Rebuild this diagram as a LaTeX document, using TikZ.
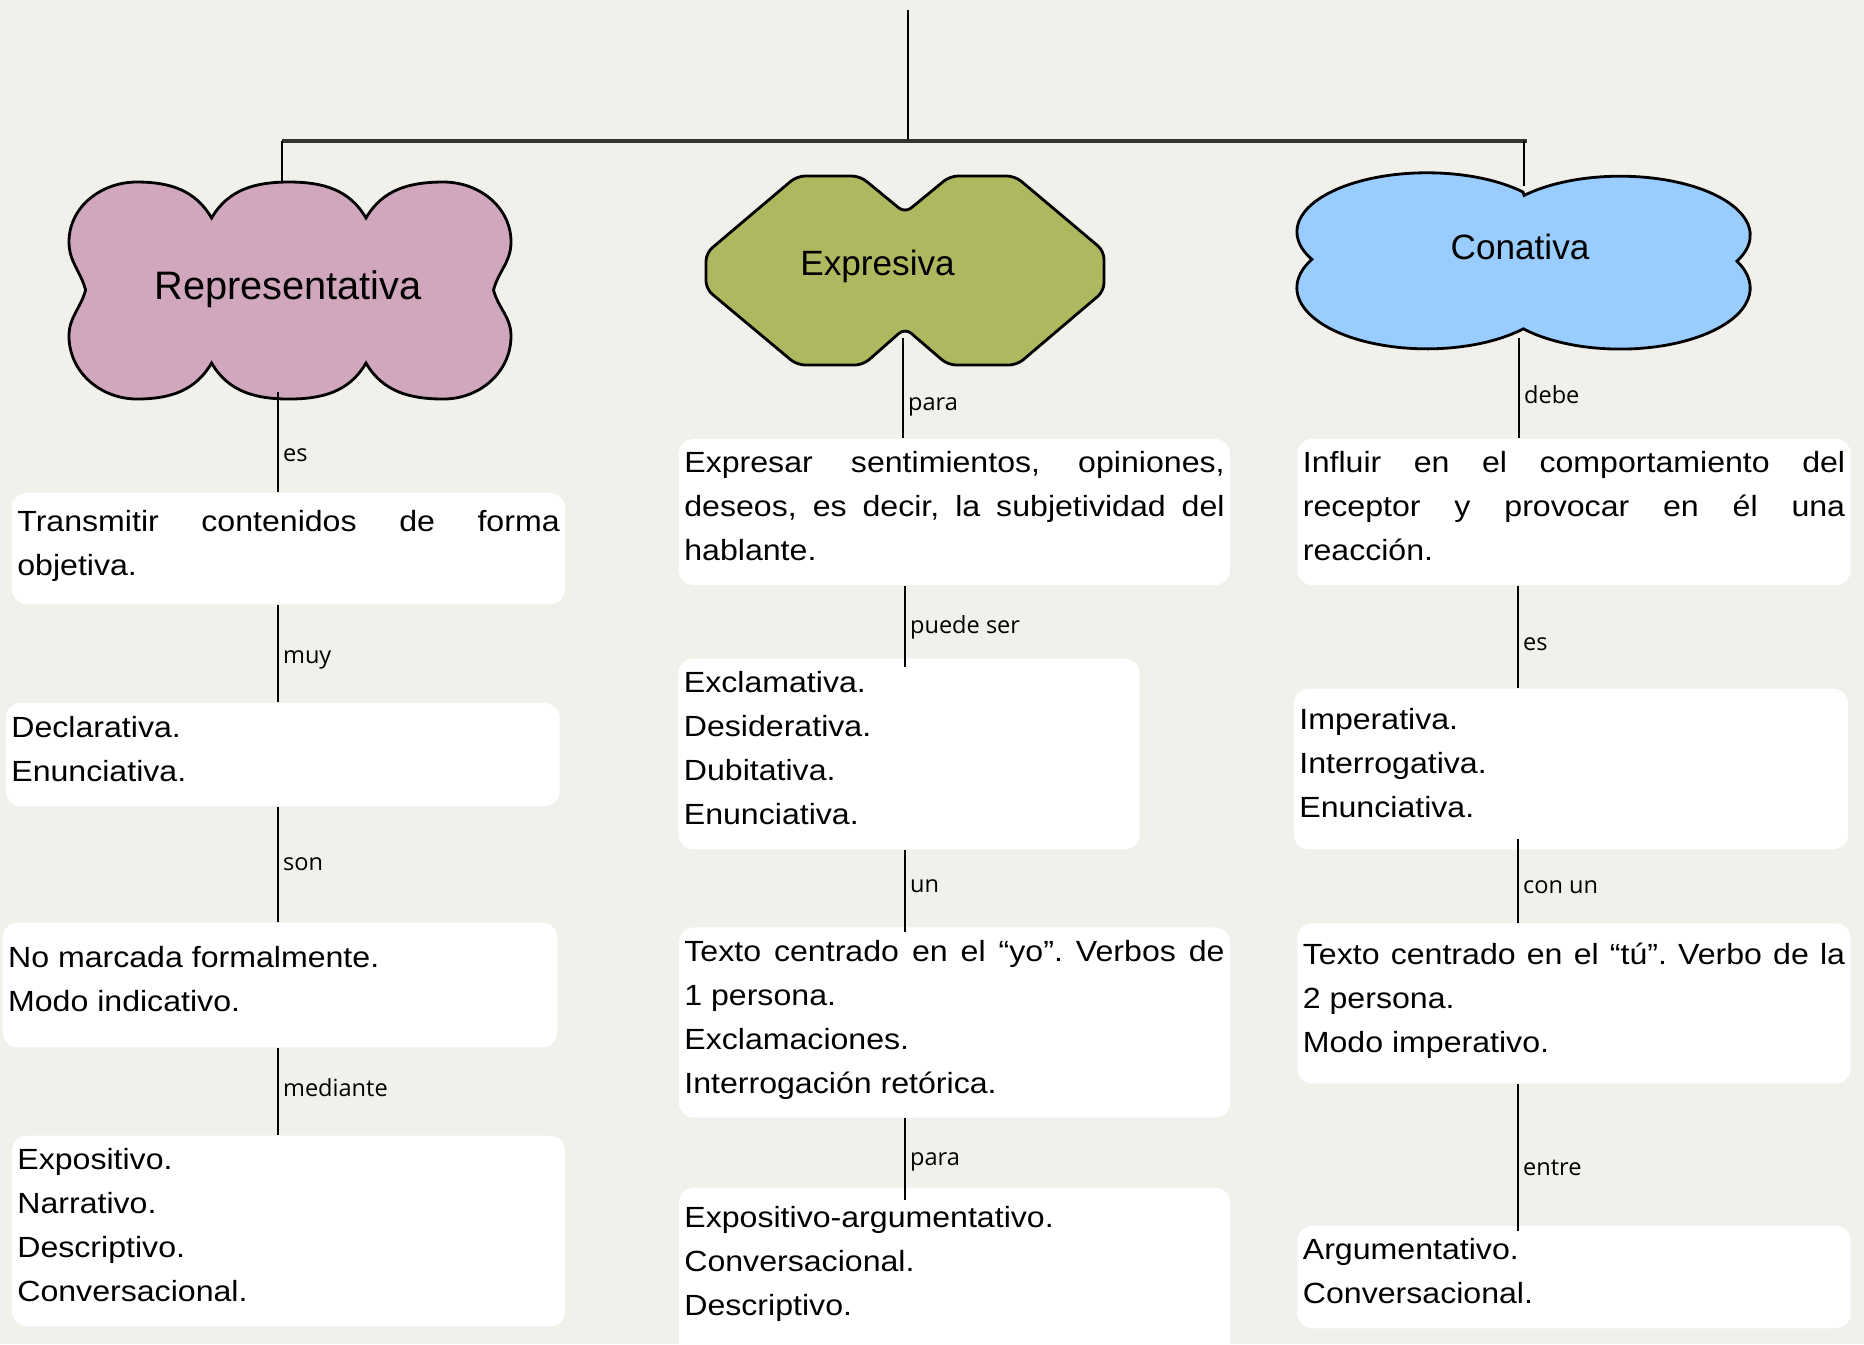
\documentclass[tikz,border=0pt]{standalone}
\usepackage{fontspec}
\newfontfamily\bodyfont{Liberation Sans}[FakeStretch=1.1]
\newfontfamily\headfont{Liberation Sans}
\newfontfamily\lblfont{Open Sans}
\definecolor{paper}{HTML}{F1F0EB}
\definecolor{rosa}{HTML}{D0A7BD}
\definecolor{oliva}{HTML}{ADB85F}
\definecolor{celeste}{HTML}{99CCFF}
\tikzset{
  concept/.style={fill=white, rounded corners=0.15cm, inner xsep=0.055cm, inner ysep=0.1cm,
    align=justify, font=\bodyfont\fontsize{8.3}{12.5}\selectfont,
    execute at end node={\rule[-0.12cm]{0pt}{0pt}}},
  head/.style={font=\headfont\fontsize{10}{12}\selectfont},
  blob/.style={draw, line width=0.8pt},
  link/.style={line width=0.5pt},
  lbl/.style={font=\lblfont\fontsize{6.7}{8}\selectfont, inner sep=1.2pt, anchor=base west}
}
\begin{document}
\sloppy\frenchspacing
\begin{tikzpicture}[x=0.01cm, y=0.01cm]
\fill[paper] (0,0) rectangle (1864,-1344);
\useasboundingbox (0,0) rectangle (1864,-1344);
\coordinate (root) at (908,-10);
\coordinate (hub) at (908,-141);
\coordinate (repN) at (282,-183);
\coordinate (conN) at (1524,-186);
\coordinate (repS) at (278,-392);
\coordinate (expS) at (903,-338);
\coordinate (conS) at (1519,-338);
\coordinate (colL) at (278,0);
\coordinate (colM) at (905,0);
\coordinate (colR) at (1518,0);
\draw[link] (root) -- (hub);
\draw[line width=1pt, black!80] (repN |- hub) -- ([xshift=0.03cm]conN |- hub);
\draw[link] (repN |- hub) -- (repN);
\draw[link] (conN |- hub) -- (conN);
\path[blob, fill=rosa] (85.6,-290) to[out=105,in=270] (69,-242) to[out=90,in=180] (137,-182)
  to[out=0,in=120] (211.6,-218) to[out=60,in=180] (289,-182) to[out=0,in=120] (366,-218)
  to[out=60,in=180] (443.5,-182) to[out=0,in=90] (511,-242) to[out=270,in=75] (493.5,-290)
  to[out=285,in=90] (511,-336) to[out=270,in=0] (443.5,-399) to[out=180,in=-60] (366,-363)
  to[out=-120,in=0] (289,-399) to[out=180,in=-60] (211.6,-363) to[out=-120,in=0] (137,-399)
  to[out=180,in=270] (69,-336) to[out=90,in=255] (85.6,-290) -- cycle;
\path[blob, fill=oliva, rounded corners=0.08cm] (797,-176) -- (860,-176) -- (905,-213) -- (950,-176)
  -- (1015,-176) -- (1104,-251) -- (1104,-291) -- (1017,-365) -- (948,-365) -- (905,-328)
  -- (863,-365) -- (797,-365) -- (706,-289) -- (706,-253) -- cycle;
\path[blob, fill=celeste] (1523,-192)
  arc[start angle=42.4, end angle=207.8, x radius=1.3cm, y radius=0.59cm]
  arc[start angle=152.2, end angle=317.8, x radius=1.3cm, y radius=0.61cm]
  arc[start angle=221.9, end angle=386.1, x radius=1.3cm, y radius=0.61cm]
  arc[start angle=-26.1, end angle=137.6, x radius=1.3cm, y radius=0.59cm] -- cycle;
\node[head, font=\headfont\fontsize{11.3}{13}\selectfont] (rep) at (288,-289) {Representativa};
\node[head] (exp) at (877.5,-266) {Expresiva};
\node[head] (con) at (1520,-246.5) {Conativa};
\node[concept, text width=5.42cm, minimum height=1.11cm] (t1) at (288.5,-548.5)
  {Transmitir contenidos de forma\linebreak objetiva.};
\node[concept, text width=5.425cm, minimum height=1.03cm] (t2) at (282.75,-754.5)
  {Declarativa.\\ Enunciativa.};
\node[concept, text width=5.435cm, minimum height=1.245cm] (t3) at (280,-985)
  {No marcada formalmente.\\ Modo indicativo.};
\node[concept, text width=5.42cm, minimum height=1.905cm] (t4) at (288.5,-1231)
  {Expositivo.\\ Narrativo.\\ Descriptivo.\\ Conversacional.};
\node[concept, text width=5.4cm, minimum height=1.46cm] (m1) at (954.5,-512)
  {Expresar sentimientos, opiniones,\linebreak deseos, es decir, la subjetividad del\linebreak hablante.};
\node[concept, text width=4.5cm, minimum height=1.905cm] (m2) at (909,-754)
  {Exclamativa.\\ Desiderativa.\\ Dubitativa.\\ Enunciativa.};
\node[concept, text width=5.4cm, minimum height=1.9cm] (m3) at (954.5,-1022.5)
  {Texto centrado en el “yo”. Verbos de\linebreak 1 persona.\\ Exclamaciones.\\ Interrogación retórica.};
\node[concept, text width=5.4cm, inner ysep=0.19cm, anchor=north] (m4) at (954.5,-1187)
  {Expositivo-argumentativo.\\ Conversacional.\\ Descriptivo.\rule[-0.8cm]{0pt}{0pt}};
\node[concept, text width=5.42cm, minimum height=1.46cm] (r1) at (1574,-512)
  {Influir en el comportamiento del\linebreak receptor y provocar en él una\linebreak reacción.};
\node[concept, text width=5.43cm, minimum height=1.605cm] (r2) at (1571,-769)
  {Imperativa.\\ Interrogativa.\\ Enunciativa.};
\node[concept, text width=5.42cm, minimum height=1.6cm] (r3) at (1574,-1003.5)
  {Texto centrado en el “tú”. Verbo de la\linebreak 2 persona.\\ Modo imperativo.};
\node[concept, text width=5.42cm, minimum height=1.025cm] (r4) at (1574,-1277)
  {Argumentativo.\\ Conversacional.};
\draw[link] (repS) -- node[lbl, pos=0.69] {es} (t1.north -| repS);
\draw[link] (expS) -- node[lbl, pos=0.72] {para} (m1.north -| expS);
\draw[link] (conS) -- node[lbl, pos=0.65] {debe} (r1.north -| conS);
\foreach \a/\b/\c/\p/\s/\e/\lab in {t1/t2/colL/0.6/0cm/0cm/muy, t2/t3/colL/0.55/0cm/0cm/son,
    t3/t4/colL/0.56/0cm/0cm/mediante,
    m1/m2/colM/0.66/0cm/-0.09cm/puede ser, m2/m3/colM/0.55/0cm/-0.05cm/un,
    m3/m4/colM/0.68/0cm/-0.13cm/para,
    r1/r2/colR/0.63/0cm/0cm/es, r2/r3/colR/0.6/-0.11cm/0cm/con un,
    r3/r4/colR/0.65/0cm/-0.06cm/entre}
  \draw[link, shorten <=\s, shorten >=\e] (\a.south -| \c) -- node[lbl, pos=\p] {\lab} (\b.north -| \c);
\end{tikzpicture}
\end{document}
